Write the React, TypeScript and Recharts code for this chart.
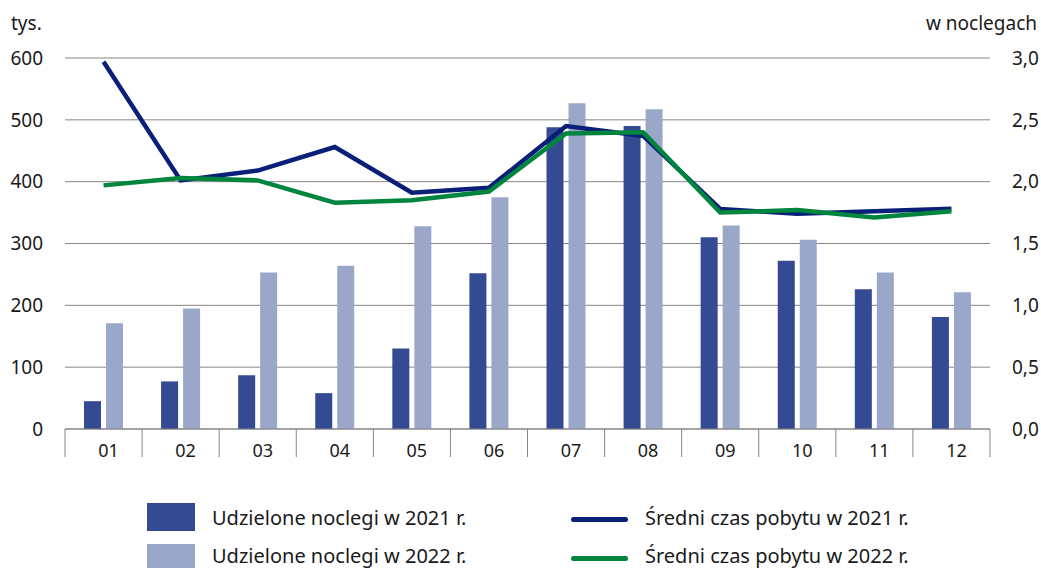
import React from 'react';
import { ComposedChart, Bar, Line, XAxis, YAxis, CartesianGrid } from 'recharts';

const months = ['01', '02', '03', '04', '05', '06', '07', '08', '09', '10', '11', '12'];
const stays2021 = [45, 77, 87, 58, 130, 252, 488, 490, 310, 272, 226, 181];
const stays2022 = [171, 195, 253, 264, 328, 375, 527, 517, 329, 306, 253, 221];
const avg2021 = [2.97, 2.01, 2.09, 2.28, 1.91, 1.95, 2.45, 2.37, 1.78, 1.74, 1.76, 1.78];
const avg2022 = [1.97, 2.03, 2.01, 1.83, 1.85, 1.92, 2.39, 2.40, 1.75, 1.77, 1.71, 1.76];
const leftTicks = [0, 100, 200, 300, 400, 500, 600];
const rightTicks = [0, 0.5, 1, 1.5, 2, 2.5, 3];

const seriesNames = {
  s21: 'Udzielone noclegi w 2021 r.',
  s22: 'Udzielone noclegi w 2022 r.',
  a21: 'Średni czas pobytu w 2021 r.',
  a22: 'Średni czas pobytu w 2022 r.',
};

const COL_BAR21 = '#344a92';
const COL_BAR22 = '#9aa7c9';
const COL_LINE21 = '#0a1f78';
const COL_LINE22 = '#00853e';
const GRID = '#858585';
const FONT = '"Noto Sans", sans-serif';

const data = months.map((m, i) => ({
  month: m,
  s21: stays2021[i],
  s22: stays2022[i],
  a21: avg2021[i],
  a22: avg2022[i],
}));

const W = 1041;
const H = 568;
const XAXIS_H = 30;
const MARGIN = { top: 58, right: 0, bottom: 139 - XAXIS_H, left: 0 };
const LEFT_W = 65;
const RIGHT_W = 51;
const PLOT_W = W - LEFT_W - RIGHT_W;
const BAND = PLOT_W / months.length;

const XTick = (props: any) => {
  const { x, y, payload, index } = props;
  return (
    <g>
      <line x1={x - BAND / 2} x2={x - BAND / 2} y1={y} y2={y + 28} stroke={GRID} strokeWidth={1} />
      {index === months.length - 1 && (
        <line x1={x + BAND / 2} x2={x + BAND / 2} y1={y} y2={y + 28} stroke={GRID} strokeWidth={1} />
      )}
      <text x={x + 5} y={y + 22} dy="0.36em" textAnchor="middle" fill="#1a1a1a" fontSize={18} fontFamily={FONT}>
        {payload.value}
      </text>
    </g>
  );
};

const fmtRight = (v: number) => v.toFixed(1).replace('.', ',');

export default function App() {
  const textStyle: React.CSSProperties = {
    position: 'absolute',
    fontFamily: FONT,
    fontSize: 19,
    color: '#1a1a1a',
    whiteSpace: 'nowrap',
    lineHeight: '20px',
  };
  const legendText: React.CSSProperties = { ...textStyle, fontSize: 20, lineHeight: '22px' };
  return (
    <div style={{ position: 'absolute', left: 0, top: 0, width: W, height: H, background: '#fff', overflow: 'hidden' }}>
      <ComposedChart width={W} height={H} data={data} margin={MARGIN} barSize={17} barGap={5}>
        <CartesianGrid vertical={false} horizontal={true} stroke={GRID} strokeWidth={1} yAxisId="left" />
        <XAxis
          dataKey="month"
          height={XAXIS_H}
          interval={0}
          tickLine={false}
          tickSize={0}
          tickMargin={0}
          axisLine={{ stroke: GRID, strokeWidth: 1 }}
          tick={<XTick />}
        />
        <YAxis
          yAxisId="left"
          orientation="left"
          width={LEFT_W}
          domain={[0, 600]}
          ticks={leftTicks}
          axisLine={false}
          tickLine={false}
          tickSize={0}
          tickMargin={22}
          tick={{ fill: '#1a1a1a', fontSize: 19, fontFamily: FONT }}
        />
        <YAxis
          yAxisId="right"
          orientation="right"
          width={RIGHT_W}
          domain={[0, 3]}
          ticks={rightTicks}
          axisLine={false}
          tickLine={false}
          tickSize={0}
          tickMargin={22}
          tickFormatter={fmtRight}
          tick={{ fill: '#1a1a1a', fontSize: 19, fontFamily: FONT }}
        />
        <Bar yAxisId="left" dataKey="s21" name={seriesNames.s21} fill={COL_BAR21} isAnimationActive={false} />
        <Bar yAxisId="left" dataKey="s22" name={seriesNames.s22} fill={COL_BAR22} isAnimationActive={false} />
        <Line yAxisId="right" dataKey="a21" name={seriesNames.a21} stroke={COL_LINE21} strokeWidth={4.5} dot={false} type="linear" isAnimationActive={false} />
        <Line yAxisId="right" dataKey="a22" name={seriesNames.a22} stroke={COL_LINE22} strokeWidth={4.5} dot={false} type="linear" isAnimationActive={false} />
      </ComposedChart>

      <div style={{ ...textStyle, left: 11, top: 13 }}>tys.</div>
      <div style={{ ...textStyle, right: 4, top: 13 }}>w noclegach</div>

      <div style={{ position: 'absolute', left: 147, top: 503, width: 48, height: 28, background: COL_BAR21 }} />
      <div style={{ ...legendText, left: 212, top: 507 }}>{seriesNames.s21}</div>
      <div style={{ position: 'absolute', left: 147, top: 544, width: 48, height: 28, background: COL_BAR22 }} />
      <div style={{ ...legendText, left: 212, top: 545 }}>{seriesNames.s22}</div>

      <div style={{ position: 'absolute', left: 571, top: 517, width: 57, height: 5, borderRadius: 3, background: COL_LINE21 }} />
      <div style={{ ...legendText, left: 645, top: 507 }}>{seriesNames.a21}</div>
      <div style={{ position: 'absolute', left: 571, top: 556, width: 57, height: 5, borderRadius: 3, background: COL_LINE22 }} />
      <div style={{ ...legendText, left: 645, top: 545 }}>{seriesNames.a22}</div>
    </div>
  );
}
